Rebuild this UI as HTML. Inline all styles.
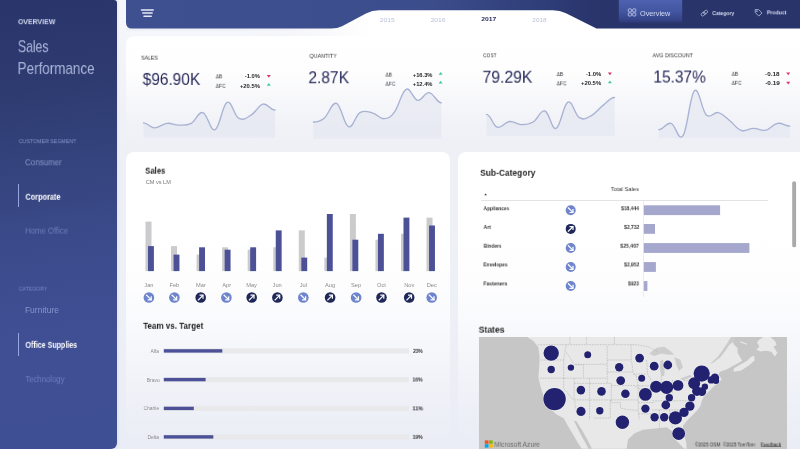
<!DOCTYPE html>
<html><head><meta charset="utf-8"><title>Sales Performance</title>
<style>
*{box-sizing:border-box;margin:0;padding:0}
html,body{width:800px;height:449px;overflow:hidden}
body{font-family:"Liberation Sans",sans-serif;background:linear-gradient(180deg,#f6f7fb 0%,#f1f2f7 22%,#eef0f6 33%,#eef0f7 62%,#eaedf5 100%);position:relative}
.t{position:absolute;white-space:pre;line-height:1;transform-origin:0 50%;will-change:transform}
.abs{position:absolute}
#side{left:0;top:0;width:117px;height:449px;border-radius:0 3px 6px 0;
 background:linear-gradient(172deg,#29356a 0%,#2e3b71 20%,#35447e 38%,#3c4b8c 56%,#404f94 74%,#3f4f93 100%);
 box-shadow:1px 0 3px rgba(60,70,120,.07)}
.sbar{position:absolute;left:18.2px;width:1.3px;background:#97a5df}
#hdr{left:126px;top:0;width:674px;height:28.6px}
.card{position:absolute;border-radius:8px;background:linear-gradient(180deg,#ffffff 0%,#ffffff 22%,rgba(255,255,255,.97) 32%,rgba(255,255,255,.88) 44%,rgba(255,255,255,.7) 56%,rgba(255,255,255,.45) 68%,rgba(255,255,255,.22) 80%,rgba(255,255,255,.07) 91%,rgba(255,255,255,0) 100%)}
</style></head><body>

<!-- sidebar -->
<div id="side" class="abs"></div>
<div class="sbar" style="top:184.2px;height:23.3px"></div>
<div class="sbar" style="top:332.6px;height:23.5px"></div>

<!-- KPI card -->
<div class="abs" style="left:126px;top:35.5px;width:690px;height:111px;border-radius:8px;background:linear-gradient(180deg,#ffffff 0%,rgba(255,255,255,.92) 30%,rgba(255,255,255,.45) 55%,rgba(255,255,255,.1) 80%,rgba(255,255,255,0) 100%)"></div>
<div class="abs" style="left:126px;top:28px;width:674px;height:9px;background:linear-gradient(180deg,#e9ecf5 0%,#f6f7fb 45%,rgba(255,255,255,0) 100%);-webkit-mask-image:linear-gradient(90deg,#000 0%,#000 18%,rgba(0,0,0,.5) 27%,transparent 31%,transparent 70%,rgba(0,0,0,.6) 75%,rgba(0,0,0,.6) 100%);mask-image:linear-gradient(90deg,#000 0%,#000 18%,rgba(0,0,0,.5) 27%,transparent 31%,transparent 70%,rgba(0,0,0,.6) 75%,rgba(0,0,0,.6) 100%)"></div>
<svg class="abs" style="left:290px;top:8px" width="510" height="34" viewBox="290 8 510 34"><defs><linearGradient id="tg" x1="0" x2="1"><stop offset="0" stop-color="#fff" stop-opacity="0"/><stop offset="0.16" stop-color="#fff"/><stop offset="1" stop-color="#fff"/></linearGradient></defs><path d="M290 36 L290 28 L342 26 L366 13 L379 10 H553 L566 13 L596.5 28.6 L800 28.6 L800 36 Z" fill="url(#tg)"/></svg>

<!-- header -->
<svg id="hdr" class="abs" viewBox="126 0 674 28.6" preserveAspectRatio="none">
 <defs>
  <linearGradient id="hg" x1="0" x2="1" y1="0" y2="0">
   <stop offset="0" stop-color="#3e5090"/><stop offset="0.45" stop-color="#3c4d8c"/><stop offset="0.62" stop-color="#2f3d78"/><stop offset="0.70" stop-color="#28346a"/><stop offset="1" stop-color="#28346a"/>
  </linearGradient>
  <linearGradient id="og" x1="0" x2="0" y1="0" y2="1">
   <stop offset="0" stop-color="#4c61b0"/><stop offset="0.5" stop-color="#4256a1"/><stop offset="0.85" stop-color="#36458b"/><stop offset="1" stop-color="#2d3a75"/>
  </linearGradient>
 </defs>
 <path d="M126 0 H800 V28.6 H596.5 L566 13.2 Q560 10.3 553 10.3 H379 Q372 10.3 366 13.4 L342 26.2 Q337.5 28.6 331 28.6 H132 Q126 28.6 126 22.6 Z" fill="url(#hg)"/>
 <rect x="618.8" y="0" width="63.4" height="22.8" fill="url(#og)"/>
 <!-- hamburger -->
 <g stroke="#e6e9f7" stroke-width="1.5" stroke-linecap="round">
  <line x1="141.5" y1="9.9" x2="153.2" y2="9.9"/><line x1="142.8" y1="13.1" x2="152.2" y2="13.1"/><line x1="144" y1="16.2" x2="151.2" y2="16.2"/>
 </g>
 <!-- overview icon -->
 <g fill="none" stroke="#c9cfec" stroke-width="0.8">
  <rect x="628.3" y="8.9" width="3.1" height="3.1" rx="0.6"/><rect x="632.7" y="8.9" width="3.1" height="3.1" rx="0.6"/>
  <rect x="628.3" y="12.9" width="3.1" height="3.1" rx="0.6"/><rect x="632.7" y="12.9" width="3.1" height="3.1" rx="0.6"/>
 </g>
 <!-- link icon -->
 <g fill="none" stroke="#c3c9e6" stroke-width="0.7" transform="translate(704.4 13.1) rotate(-38)">
  <rect x="-3.7" y="-1.45" width="4.5" height="2.9" rx="1.45"/><rect x="-0.8" y="-1.45" width="4.5" height="2.9" rx="1.45"/>
 </g>
 <!-- tag icon -->
 <g fill="none" stroke="#c3c9e6" stroke-width="0.75" stroke-linejoin="round">
  <path d="M755.2 9.6 H758.6 L762 13 L758.9 16 L755.2 12.6 Z"/><circle cx="756.9" cy="11.2" r="0.5"/>
 </g>
</svg>

<!-- cards -->
<div class="card" style="left:126px;top:152px;width:323.5px;height:297px;border-radius:8px 8px 0 0"></div>
<div class="card" style="left:458px;top:152px;width:360px;height:297px;border-radius:8px 8px 0 0"></div>

<!-- KPI sparklines + triangles -->
<svg class="abs" style="left:126px;top:33px" width="674" height="112" viewBox="126 33 674 112">
 <defs><linearGradient id="sg" x1="0" x2="0" y1="0" y2="1"><stop offset="0" stop-color="#96a0c8" stop-opacity="0.13"/><stop offset="1" stop-color="#96a0c8" stop-opacity="0.08"/></linearGradient></defs>
 <path d="M143.4 122.8 C147.7 122.8 149.9 127.8 154.2 127.9 C159.3 128.0 161.9 123.9 167.0 123.3 C171.6 122.8 173.9 125.1 178.5 125.1 C183.6 125.1 186.2 125.9 191.3 123.3 C195.9 120.9 198.2 111.4 202.8 112.6 C207.7 113.9 210.2 131.8 215.1 129.7 C219.9 127.7 222.3 104.6 227.1 102.3 C231.7 100.0 234.0 115.8 238.6 118.2 C243.7 120.9 246.3 117.9 251.4 114.9 C256.0 112.2 258.4 105.1 263.0 104.1 C267.8 103.1 270.2 110.0 275.0 110.0 L275.0 137.9 L143.4 137.9 Z" fill="url(#sg)"/>
<path d="M143.4 122.8 C147.7 122.8 149.9 127.8 154.2 127.9 C159.3 128.0 161.9 123.9 167.0 123.3 C171.6 122.8 173.9 125.1 178.5 125.1 C183.6 125.1 186.2 125.9 191.3 123.3 C195.9 120.9 198.2 111.4 202.8 112.6 C207.7 113.9 210.2 131.8 215.1 129.7 C219.9 127.7 222.3 104.6 227.1 102.3 C231.7 100.0 234.0 115.8 238.6 118.2 C243.7 120.9 246.3 117.9 251.4 114.9 C256.0 112.2 258.4 105.1 263.0 104.1 C267.8 103.1 270.2 110.0 275.0 110.0" fill="none" stroke="#a8b3d3" stroke-width="1.35" stroke-linecap="round"/>
<path d="M313.4 122.0 C317.7 122.0 319.9 121.7 324.2 118.2 C329.1 114.2 331.6 101.7 336.5 103.4 C341.3 105.1 343.7 124.8 348.5 126.7 C353.1 128.5 355.4 115.2 360.0 112.6 C365.1 109.7 367.7 111.8 372.8 113.1 C377.4 114.3 379.7 119.0 384.3 118.7 C388.4 118.5 390.5 117.4 394.6 111.8 C399.2 105.6 401.5 91.6 406.1 89.3 C410.7 87.0 413.0 99.6 417.6 100.3 C422.2 101.0 424.5 92.1 429.1 92.6 C434.0 93.1 436.5 102.8 441.4 102.8 L441.4 138.7 L313.4 138.7 Z" fill="url(#sg)"/>
<path d="M313.4 122.0 C317.7 122.0 319.9 121.7 324.2 118.2 C329.1 114.2 331.6 101.7 336.5 103.4 C341.3 105.1 343.7 124.8 348.5 126.7 C353.1 128.5 355.4 115.2 360.0 112.6 C365.1 109.7 367.7 111.8 372.8 113.1 C377.4 114.3 379.7 119.0 384.3 118.7 C388.4 118.5 390.5 117.4 394.6 111.8 C399.2 105.6 401.5 91.6 406.1 89.3 C410.7 87.0 413.0 99.6 417.6 100.3 C422.2 101.0 424.5 92.1 429.1 92.6 C434.0 93.1 436.5 102.8 441.4 102.8" fill="none" stroke="#a8b3d3" stroke-width="1.35" stroke-linecap="round"/>
<path d="M486.5 114.4 C490.8 114.4 492.9 125.9 497.2 127.2 C502.1 128.7 504.6 122.0 509.5 121.5 C514.1 121.0 516.4 124.5 521.0 124.6 C525.8 124.7 528.3 124.8 533.1 122.0 C537.8 119.3 540.2 109.7 544.9 111.0 C549.4 112.2 551.6 130.1 556.1 128.4 C560.8 126.6 563.2 104.3 567.9 102.1 C572.5 100.0 574.8 115.1 579.4 117.7 C584.2 120.5 586.6 118.1 591.4 115.6 C596.0 113.2 598.4 109.0 603.0 105.4 C607.6 101.8 609.9 97.5 614.5 97.5 L614.5 136.1 L486.5 136.1 Z" fill="url(#sg)"/>
<path d="M486.5 114.4 C490.8 114.4 492.9 125.9 497.2 127.2 C502.1 128.7 504.6 122.0 509.5 121.5 C514.1 121.0 516.4 124.5 521.0 124.6 C525.8 124.7 528.3 124.8 533.1 122.0 C537.8 119.3 540.2 109.7 544.9 111.0 C549.4 112.2 551.6 130.1 556.1 128.4 C560.8 126.6 563.2 104.3 567.9 102.1 C572.5 100.0 574.8 115.1 579.4 117.7 C584.2 120.5 586.6 118.1 591.4 115.6 C596.0 113.2 598.4 109.0 603.0 105.4 C607.6 101.8 609.9 97.5 614.5 97.5" fill="none" stroke="#a8b3d3" stroke-width="1.35" stroke-linecap="round"/>
<path d="M658.9 129.7 C663.7 129.7 666.2 122.1 671.0 123.3 C675.8 124.5 678.2 142.2 683.0 135.6 C687.6 129.2 689.9 94.9 694.5 90.8 C699.2 86.6 701.6 110.6 706.3 114.9 C711.1 119.3 713.5 111.4 718.3 112.6 C722.9 113.8 725.2 117.2 729.8 120.8 C734.4 124.4 736.8 129.0 741.4 130.5 C746.2 132.0 748.6 128.5 753.4 128.4 C758.3 128.3 760.8 131.2 765.7 130.2 C770.5 129.2 772.9 124.1 777.7 123.3 C782.5 122.5 785.0 126.1 789.8 126.1 L789.8 137.9 L658.9 137.9 Z" fill="url(#sg)"/>
<path d="M658.9 129.7 C663.7 129.7 666.2 122.1 671.0 123.3 C675.8 124.5 678.2 142.2 683.0 135.6 C687.6 129.2 689.9 94.9 694.5 90.8 C699.2 86.6 701.6 110.6 706.3 114.9 C711.1 119.3 713.5 111.4 718.3 112.6 C722.9 113.8 725.2 117.2 729.8 120.8 C734.4 124.4 736.8 129.0 741.4 130.5 C746.2 132.0 748.6 128.5 753.4 128.4 C758.3 128.3 760.8 131.2 765.7 130.2 C770.5 129.2 772.9 124.1 777.7 123.3 C782.5 122.5 785.0 126.1 789.8 126.1" fill="none" stroke="#a8b3d3" stroke-width="1.35" stroke-linecap="round"/>

 <path d="M266.8 75.10000000000001 L270.8 75.10000000000001 L268.8 77.7 Z" fill="#d8366f"/>
<path d="M266.8 85.7 L270.8 85.7 L268.8 83.10000000000001 Z" fill="#3fc9a2"/>
<path d="M438.6 74.7 L442.6 74.7 L440.6 72.10000000000001 Z" fill="#3fc9a2"/>
<path d="M438.6 83.39999999999999 L442.6 83.39999999999999 L440.6 80.8 Z" fill="#3fc9a2"/>
<path d="M607.9 72.60000000000001 L611.9 72.60000000000001 L609.9 75.2 Z" fill="#d8366f"/>
<path d="M607.9 83.2 L611.9 83.2 L609.9 80.60000000000001 Z" fill="#3fc9a2"/>
<path d="M786.2 72.60000000000001 L790.2 72.60000000000001 L788.2 75.2 Z" fill="#d8366f"/>
<path d="M786.2 81.8 L790.2 81.8 L788.2 84.39999999999999 Z" fill="#d8366f"/>
</svg>

<!-- Sales bar chart + icons + team bars -->
<svg class="abs" style="left:126px;top:152px" width="324" height="297" viewBox="126 152 324 297">
 <rect x="145.50" y="221.6" width="6" height="49.5" fill="#cbcbcd"/><rect x="148.00" y="246.1" width="5.9" height="25.0" fill="#4b5097"/>
<rect x="171.05" y="246.1" width="6" height="25.0" fill="#cbcbcd"/><rect x="173.55" y="254.6" width="5.9" height="16.5" fill="#4b5097"/>
<rect x="196.60" y="254.6" width="6" height="16.5" fill="#cbcbcd"/><rect x="199.10" y="247.3" width="5.9" height="23.8" fill="#4b5097"/>
<rect x="222.15" y="247.3" width="6" height="23.8" fill="#cbcbcd"/><rect x="224.65" y="249.7" width="5.9" height="21.4" fill="#4b5097"/>
<rect x="247.70" y="249.7" width="6" height="21.4" fill="#cbcbcd"/><rect x="250.20" y="247.3" width="5.9" height="23.8" fill="#4b5097"/>
<rect x="273.25" y="247.3" width="6" height="23.8" fill="#cbcbcd"/><rect x="275.75" y="230.4" width="5.9" height="40.7" fill="#4b5097"/>
<rect x="298.80" y="230.4" width="6" height="40.7" fill="#cbcbcd"/><rect x="301.30" y="257.6" width="5.9" height="13.5" fill="#4b5097"/>
<rect x="324.35" y="257.6" width="6" height="13.5" fill="#cbcbcd"/><rect x="326.85" y="214.0" width="5.9" height="57.1" fill="#4b5097"/>
<rect x="349.90" y="214.0" width="6" height="57.1" fill="#cbcbcd"/><rect x="352.40" y="239.7" width="5.9" height="31.4" fill="#4b5097"/>
<rect x="375.45" y="239.7" width="6" height="31.4" fill="#cbcbcd"/><rect x="377.95" y="233.8" width="5.9" height="37.3" fill="#4b5097"/>
<rect x="401.00" y="233.8" width="6" height="37.3" fill="#cbcbcd"/><rect x="403.50" y="217.6" width="5.9" height="53.5" fill="#4b5097"/>
<rect x="426.55" y="217.6" width="6" height="53.5" fill="#cbcbcd"/><rect x="429.05" y="225.5" width="5.9" height="45.6" fill="#4b5097"/>
<circle cx="148.9" cy="297.5" r="5.3" fill="#6e84cd"/><g transform="translate(148.9 297.5)" stroke="#fff" stroke-width="1.2" fill="none" stroke-linecap="square"><path d="M-2.3 -2.3 L1.9999999999999998 1.9999999999999998"/><path d="M-0.6 2.3 H2.3 V-0.6" stroke-linejoin="miter"/></g>
<circle cx="174.4" cy="297.5" r="5.3" fill="#6e84cd"/><g transform="translate(174.4 297.5)" stroke="#fff" stroke-width="1.2" fill="none" stroke-linecap="square"><path d="M-2.3 -2.3 L1.9999999999999998 1.9999999999999998"/><path d="M-0.6 2.3 H2.3 V-0.6" stroke-linejoin="miter"/></g>
<circle cx="200.7" cy="297.5" r="5.3" fill="#1f2858"/><g transform="translate(200.7 297.5)" stroke="#fff" stroke-width="1.2" fill="none" stroke-linecap="square"><path d="M-2.3 2.3 L1.9999999999999998 -1.9999999999999998"/><path d="M-0.6 -2.3 H2.3 V0.6" stroke-linejoin="miter"/></g>
<circle cx="226.4" cy="297.5" r="5.3" fill="#6e84cd"/><g transform="translate(226.4 297.5)" stroke="#fff" stroke-width="1.2" fill="none" stroke-linecap="square"><path d="M-2.3 -2.3 L1.9999999999999998 1.9999999999999998"/><path d="M-0.6 2.3 H2.3 V-0.6" stroke-linejoin="miter"/></g>
<circle cx="251.7" cy="297.5" r="5.3" fill="#1f2858"/><g transform="translate(251.7 297.5)" stroke="#fff" stroke-width="1.2" fill="none" stroke-linecap="square"><path d="M-2.3 2.3 L1.9999999999999998 -1.9999999999999998"/><path d="M-0.6 -2.3 H2.3 V0.6" stroke-linejoin="miter"/></g>
<circle cx="277.4" cy="297.5" r="5.3" fill="#1f2858"/><g transform="translate(277.4 297.5)" stroke="#fff" stroke-width="1.2" fill="none" stroke-linecap="square"><path d="M-2.3 2.3 L1.9999999999999998 -1.9999999999999998"/><path d="M-0.6 -2.3 H2.3 V0.6" stroke-linejoin="miter"/></g>
<circle cx="303.3" cy="297.5" r="5.3" fill="#6e84cd"/><g transform="translate(303.3 297.5)" stroke="#fff" stroke-width="1.2" fill="none" stroke-linecap="square"><path d="M-2.3 -2.3 L1.9999999999999998 1.9999999999999998"/><path d="M-0.6 2.3 H2.3 V-0.6" stroke-linejoin="miter"/></g>
<circle cx="330.1" cy="297.5" r="5.3" fill="#1f2858"/><g transform="translate(330.1 297.5)" stroke="#fff" stroke-width="1.2" fill="none" stroke-linecap="square"><path d="M-2.3 2.3 L1.9999999999999998 -1.9999999999999998"/><path d="M-0.6 -2.3 H2.3 V0.6" stroke-linejoin="miter"/></g>
<circle cx="356.1" cy="297.5" r="5.3" fill="#6e84cd"/><g transform="translate(356.1 297.5)" stroke="#fff" stroke-width="1.2" fill="none" stroke-linecap="square"><path d="M-2.3 -2.3 L1.9999999999999998 1.9999999999999998"/><path d="M-0.6 2.3 H2.3 V-0.6" stroke-linejoin="miter"/></g>
<circle cx="381.5" cy="297.5" r="5.3" fill="#1f2858"/><g transform="translate(381.5 297.5)" stroke="#fff" stroke-width="1.2" fill="none" stroke-linecap="square"><path d="M-2.3 2.3 L1.9999999999999998 -1.9999999999999998"/><path d="M-0.6 -2.3 H2.3 V0.6" stroke-linejoin="miter"/></g>
<circle cx="409.2" cy="297.5" r="5.3" fill="#1f2858"/><g transform="translate(409.2 297.5)" stroke="#fff" stroke-width="1.2" fill="none" stroke-linecap="square"><path d="M-2.3 2.3 L1.9999999999999998 -1.9999999999999998"/><path d="M-0.6 -2.3 H2.3 V0.6" stroke-linejoin="miter"/></g>
<circle cx="431.7" cy="297.5" r="5.3" fill="#6e84cd"/><g transform="translate(431.7 297.5)" stroke="#fff" stroke-width="1.2" fill="none" stroke-linecap="square"><path d="M-2.3 -2.3 L1.9999999999999998 1.9999999999999998"/><path d="M-0.6 2.3 H2.3 V-0.6" stroke-linejoin="miter"/></g>

 <rect x="163.8" y="348.3" width="245.2" height="5.2" fill="#e9e9eb"/><rect x="163.8" y="349.2" width="58.5" height="3.4" fill="#4b5097"/>
<rect x="163.8" y="377.0" width="245.2" height="5.2" fill="#e9e9eb"/><rect x="163.8" y="377.9" width="41.8" height="3.4" fill="#4b5097"/>
<rect x="163.8" y="405.8" width="245.2" height="5.2" fill="#e9e9eb"/><rect x="163.8" y="406.7" width="30.0" height="3.4" fill="#4b5097"/>
<rect x="163.8" y="434.3" width="245.2" height="5.2" fill="#e9e9eb"/><rect x="163.8" y="435.2" width="49.5" height="3.4" fill="#4b5097"/>

</svg>

<!-- Sub-category -->
<svg class="abs" style="left:458px;top:152px" width="342" height="170" viewBox="458 152 342 170">
 <path d="M484.2 195.3 L487 195.3 L485.6 193.4 Z" fill="#444"/><rect x="481" y="200.1" width="287" height="0.8" fill="#dcdcde"/><rect x="643.4" y="201" width="0.6" height="96" fill="#e2e2e4"/><rect x="643.8" y="205.3" width="76.3" height="9.8" fill="#a5a7cd"/><circle cx="570.7" cy="210.2" r="5.0" fill="#6e84cd"/><g transform="translate(570.7 210.2)" stroke="#fff" stroke-width="1.2" fill="none" stroke-linecap="square"><path d="M-2.3 -2.3 L1.9999999999999998 1.9999999999999998"/><path d="M-0.6 2.3 H2.3 V-0.6" stroke-linejoin="miter"/></g>
<rect x="643.8" y="224.0" width="11.2" height="9.8" fill="#a5a7cd"/><circle cx="570.7" cy="228.9" r="5.0" fill="#1f2858"/><g transform="translate(570.7 228.9)" stroke="#fff" stroke-width="1.2" fill="none" stroke-linecap="square"><path d="M-2.3 2.3 L1.9999999999999998 -1.9999999999999998"/><path d="M-0.6 -2.3 H2.3 V0.6" stroke-linejoin="miter"/></g>
<rect x="643.8" y="243.1" width="105.6" height="9.8" fill="#a5a7cd"/><circle cx="570.7" cy="248.0" r="5.0" fill="#6e84cd"/><g transform="translate(570.7 248.0)" stroke="#fff" stroke-width="1.2" fill="none" stroke-linecap="square"><path d="M-2.3 -2.3 L1.9999999999999998 1.9999999999999998"/><path d="M-0.6 2.3 H2.3 V-0.6" stroke-linejoin="miter"/></g>
<rect x="643.8" y="262.1" width="12.1" height="9.8" fill="#a5a7cd"/><circle cx="570.7" cy="267.0" r="5.0" fill="#6e84cd"/><g transform="translate(570.7 267.0)" stroke="#fff" stroke-width="1.2" fill="none" stroke-linecap="square"><path d="M-2.3 -2.3 L1.9999999999999998 1.9999999999999998"/><path d="M-0.6 2.3 H2.3 V-0.6" stroke-linejoin="miter"/></g>
<rect x="643.8" y="281.1" width="3.6" height="9.8" fill="#a5a7cd"/><circle cx="570.7" cy="286.0" r="5.0" fill="#6e84cd"/><g transform="translate(570.7 286.0)" stroke="#fff" stroke-width="1.2" fill="none" stroke-linecap="square"><path d="M-2.3 -2.3 L1.9999999999999998 1.9999999999999998"/><path d="M-0.6 2.3 H2.3 V-0.6" stroke-linejoin="miter"/></g>
<rect x="792.2" y="181.3" width="3.9" height="66" rx="1.9" fill="#aaaaaa"/>
</svg>

<!-- Map -->
<svg class="abs" style="left:478.6px;top:337.2px" width="308.4" height="111.8" viewBox="478.6 337.2 308.4 111.8">
 <rect x="478" y="337" width="310" height="113" fill="#c6c6c6"/>
<path fill="#e8e8e8" d="M526.8 337.2 L731 337.2 L733.4 344.7 L737 348 L737.4 353.4 L740.1 358 L741.8 361 L736.7 364 L731.4 366.8 L726.7 369.4 L720 371.8 L717.8 374.5 L719.8 377 L721.3 380 L717.5 383 L713.8 386.3 L708.8 391.3 L703.8 396.3 L701.3 401.3 L700 406.3 L696.3 411.3 L691.3 416.3 L686.3 421.3 L682.5 426.3 L683.8 436.3 L685.8 442.5 L686.3 449 L683.8 449 L681.3 446.3 L677.5 442.5 L673.8 438.8 L671.3 431.3 L666.3 427.5 L655 428.8 L642.5 430 L633.8 433.8 L627.5 440 L626.3 449 L581.4 449 L577.7 443.5 L572.8 434.9 L567.6 426.3 L563.3 418.5 L556.2 414.8 L548.1 407.6 L543.2 396.1 L540 386.3 L538 377.5 L538.8 367.5 L539.3 357.5 L538 347.5 L533 341.3 Z"/>
<path fill="#e8e8e8" d="M733 372 L733.6 368.4 L740 364.8 L746.8 361 L750.6 357.3 L753.8 356 L754.2 360.8 L748 366 L740.8 370.6 Z"/>
<path fill="#e8e8e8" d="M756.1 350 L759 346.7 L756.5 342.5 L758.8 340 L762.8 337.2 L770 337.2 L774.9 341.4 L776 345.4 L773 346.7 L777 353 L774.5 356.7 L771 352 L766 351 L760 351.6 Z"/>
<path fill="#e8e8e8" d="M740 341.4 L746.8 343.9 L746.5 345 L740 342.6 Z"/>
<path d="M730.5 337.2 L736 337.2 L733.4 341.5 L728.7 345.5 L725.2 350.7 L720 357.4 L713 362.6 L709.4 364.3 L712.5 361.5 L717.4 357 L722.5 350 L726.5 344 Z" fill="#cacaca"/>
<path fill="#c6c6c6" d="M573.5 421 L577 428 L581 436 L585 443 L588 449 L591.5 449 L587 440 L582 431 L576 421.5 Z"/>
<!-- great lakes -->
<g fill="#cdcdcd">
<path d="M648.8 353.8 L656.3 348 L663.8 347 L670 351.3 L673.8 355 L667.5 355 L661.3 353.8 L653.8 356.3 Z"/>
<path d="M660 361.3 L662.5 360 L664.5 367.5 L663.8 376.3 L660.8 376.3 L659.5 368.8 Z"/>
<path d="M673.8 357.5 L680 360 L682.5 367.5 L678.8 371.3 L676.3 366.3 L675 361.3 Z"/>
<path d="M680 378.8 L690 375 L691.3 377 L682.5 380.8 Z"/>
<path d="M692.5 372 L700 370 L700.5 372 L693.8 373.8 Z"/>
</g>
<!-- borders -->
<g fill="none" stroke="#b6b6b6" stroke-width="0.6" stroke-dasharray="1.8 0.9">
<path d="M537.4 344.9 L636.8 344.9 L649.2 347.4 L657.5 352.5"/><path d="M569.5 337.0 L569.5 344.9"/><path d="M586.1 337.0 L586.1 344.9"/><path d="M614.0 337.0 L614.0 344.9"/><path d="M540.5 360.2 L563.3 360.2"/><path d="M565.8 344.9 L564.3 353.6 L563.3 360.2 L563.3 378.4"/><path d="M565.8 352.5 L569.5 357.7 L573.7 365.0 L581.9 365.0"/><path d="M574.7 364.5 L606.8 364.5"/><path d="M583.0 364.5 L583.0 378.4 L605.7 378.4"/><path d="M539.5 378.4 L583.0 378.4"/><path d="M563.3 378.4 L563.3 388.8 L574.3 401.6 L575.1 409.5"/><path d="M573.7 378.4 L573.7 399.1"/><path d="M573.7 383.6 L589.2 383.6"/><path d="M589.2 378.4 L589.2 419.8"/><path d="M589.2 383.6 L610.9 383.6"/><path d="M573.7 400.1 L637.8 400.1"/><path d="M610.9 383.6 L610.9 402.8 L620.2 402.8 L620.2 408.4 L628.5 409.9 L637.8 410.9"/><path d="M606.8 346.3 L606.8 383.6"/><path d="M606.8 360.2 L630.6 360.2"/><path d="M606.8 372.2 L632.7 372.2 L635.8 376.3"/><path d="M610.9 385.7 L634.7 385.7 L636.8 388.8"/><path d="M609.9 400.1 L609.9 418.2 L593.3 418.2"/><path d="M630.6 344.9 L631.0 360.2 L632.7 372.2"/><path d="M632.7 374.3 L646.1 374.3"/><path d="M635.8 376.3 L637.8 385.7 L637.8 410.9 L638.9 419.8"/><path d="M637.8 388.8 L651.3 388.8"/><path d="M637.8 402.8 L654.4 402.8"/><path d="M646.1 360.2 L647.2 374.3 L651.3 381.5"/><path d="M652 401 H690"/><path d="M652 410 H684"/><path d="M659 410 V428"/><path d="M669 410 L672 428"/><path d="M661 376 V392"/><path d="M672 380 V394"/><path d="M683 381 L700 379 L708 377"/><path d="M700 379 L702 388"/><path d="M638 414 H652"/><path d="M636 386 L652 386"/>
</g>
<!-- bubbles -->
<g fill="#ffffff" fill-opacity="0.45"><circle cx="550.8" cy="353.3" r="8.25"/><circle cx="550.8" cy="369.7" r="4.25"/><circle cx="570.5" cy="367.8" r="3.75"/><circle cx="587.3" cy="355" r="4.05"/><circle cx="554.2" cy="399.3" r="11.75"/><circle cx="580.5" cy="390.3" r="4.85"/><circle cx="601.1" cy="391.6" r="4.85"/><circle cx="580.6" cy="411.6" r="5.15"/><circle cx="599.4" cy="411" r="4.25"/><circle cx="622" cy="422.5" r="7.25"/><circle cx="618.8" cy="367.5" r="4.75"/><circle cx="620.3" cy="380.8" r="4.95"/><circle cx="625" cy="394" r="4.85"/><circle cx="639.2" cy="358.3" r="4.95"/><circle cx="653.8" cy="366.4" r="4.95"/><circle cx="667.4" cy="365.2" r="4.95"/><circle cx="641.3" cy="378.4" r="4.05"/><circle cx="655.7" cy="387" r="6.55"/><circle cx="666.2" cy="387.6" r="7.15"/><circle cx="677.6" cy="385.6" r="5.95"/><circle cx="645" cy="394.6" r="6.95"/><circle cx="668.9" cy="398" r="4.25"/><circle cx="665.4" cy="405.2" r="4.95"/><circle cx="645" cy="408.8" r="4.75"/><circle cx="654.2" cy="417.5" r="4.75"/><circle cx="663.8" cy="417.5" r="4.75"/><circle cx="675" cy="418.1" r="7.15"/><circle cx="683.6" cy="412.6" r="5.25"/><circle cx="689.5" cy="406.3" r="5.25"/><circle cx="691.2" cy="398" r="4.25"/><circle cx="678.3" cy="433.8" r="6.95"/><circle cx="693.8" cy="383.5" r="6.55"/><circle cx="701.3" cy="373.8" r="8.65"/><circle cx="696.5" cy="391.4" r="5.35"/><circle cx="701.5" cy="391.8" r="4.85"/><circle cx="704.5" cy="387" r="3.75"/><circle cx="710.9" cy="380.1" r="4.25"/><circle cx="714.5" cy="377.9" r="4.85"/><circle cx="715.6" cy="380.9" r="3.75"/></g>

<g fill="#222270">
<circle cx="550.8" cy="353.3" r="7.7"/><circle cx="550.8" cy="369.7" r="3.7"/><circle cx="570.5" cy="367.8" r="3.2"/>
<circle cx="587.3" cy="355" r="3.5"/><circle cx="554.2" cy="399.3" r="11.2"/><circle cx="580.5" cy="390.3" r="4.3"/>
<circle cx="601.1" cy="391.6" r="4.3"/><circle cx="580.6" cy="411.6" r="4.6"/><circle cx="599.4" cy="411" r="3.7"/>
<circle cx="622" cy="422.5" r="6.7"/><circle cx="618.8" cy="367.5" r="4.2"/><circle cx="620.3" cy="380.8" r="4.4"/>
<circle cx="625" cy="394" r="4.3"/><circle cx="639.2" cy="358.3" r="4.4"/><circle cx="653.8" cy="366.4" r="4.4"/>
<circle cx="667.4" cy="365.2" r="4.4"/><circle cx="641.3" cy="378.4" r="3.5"/><circle cx="655.7" cy="387" r="6"/>
<circle cx="666.2" cy="387.6" r="6.6"/><circle cx="677.6" cy="385.6" r="5.4"/><circle cx="645" cy="394.6" r="6.4"/>
<circle cx="668.9" cy="398" r="3.7"/><circle cx="665.4" cy="405.2" r="4.4"/><circle cx="645" cy="408.8" r="4.2"/>
<circle cx="654.2" cy="417.5" r="4.2"/><circle cx="663.8" cy="417.5" r="4.2"/><circle cx="675" cy="418.1" r="6.6"/>
<circle cx="683.6" cy="412.6" r="4.7"/><circle cx="689.5" cy="406.3" r="4.7"/><circle cx="691.2" cy="398" r="3.7"/>
<circle cx="678.3" cy="433.8" r="6.4"/><circle cx="693.8" cy="383.5" r="6"/><circle cx="701.3" cy="373.8" r="8.1"/>
<circle cx="696.5" cy="391.4" r="4.8"/><circle cx="701.5" cy="391.8" r="4.3"/><circle cx="704.5" cy="387" r="3.2"/>
<circle cx="710.9" cy="380.1" r="3.7"/><circle cx="714.5" cy="377.9" r="4.3"/><circle cx="715.6" cy="380.9" r="3.2"/>
</g>
<!-- MS logo -->
<rect x="484.4" y="440.6" width="3.7" height="3.4" fill="#f25022"/><rect x="488.6" y="440.6" width="3.7" height="3.4" fill="#7fba00"/>
<rect x="484.4" y="444.4" width="3.7" height="3.4" fill="#00a4ef"/><rect x="488.6" y="444.4" width="3.7" height="3.4" fill="#ffb900"/>
<rect x="760.9" y="446.5" width="19.9" height="0.45" fill="#333"/>

</svg>

<div class="t" style="font-size:7.85px;left:18.60px;top:17.77px;color:#d3d8ef;font-weight:700;transform:translate(-1.05px,0.17px) scaleX(0.888);">OVERVIEW</div>
<div class="t" style="font-size:15.99px;left:18.60px;top:38.11px;color:#aeb7db;transform:translate(-1.13px,1.16px) scaleX(0.765);">Sales</div>
<div class="t" style="font-size:15.7px;left:18.60px;top:60.15px;color:#aeb7db;transform:translate(-1.44px,1.04px) scaleX(0.858);">Performance</div>
<div class="t" style="font-size:5.67px;left:18.70px;top:138.47px;color:#8a97cc;transform:translate(-0.20px,1.17px) scaleX(0.930);">CUSTOMER SEGMENT</div>
<div class="t" style="font-size:8.14px;left:25.60px;top:158.13px;color:#8a97c8;transform:translate(-1.04px,1.26px) scaleX(0.982);">Consumer</div>
<div class="t" style="font-size:8.14px;left:25.60px;top:192.73px;color:#ffffff;font-weight:700;transform:translate(-0.50px,0.81px) scaleX(0.901);">Corporate</div>
<div class="t" style="font-size:8.43px;left:25.60px;top:226.38px;color:#6f7dba;transform:translate(-0.86px,0.63px) scaleX(0.920);">Home Office</div>
<div class="t" style="font-size:5.67px;left:18.70px;top:285.97px;color:#7b89c6;transform:translate(-0.13px,0.66px) scaleX(0.906);">CATEGORY</div>
<div class="t" style="font-size:8.28px;left:25.60px;top:305.86px;color:#8794cc;transform:translate(-1.10px,1.21px) scaleX(1.033);">Furniture</div>
<div class="t" style="font-size:8.28px;left:25.60px;top:340.66px;color:#ffffff;font-weight:700;transform:translate(-0.55px,0.82px) scaleX(0.859);">Office Supplies</div>
<div class="t" style="font-size:8.28px;left:25.60px;top:374.96px;color:#6f7dbd;transform:translate(-0.61px,1.14px) scaleX(0.933);">Technology</div>
<div class="t" style="font-size:6.1px;left:380.00px;top:16.45px;color:#b9bfd8;transform:translate(-0.27px,0.79px) scaleX(1.108);">2015</div>
<div class="t" style="font-size:6.1px;left:431.25px;top:16.45px;color:#b9bfd8;transform:translate(-0.36px,0.80px) scaleX(1.102);">2016</div>
<div class="t" style="font-size:6.1px;left:481.75px;top:16.45px;color:#2d2f5e;font-weight:700;transform:translate(-0.86px,0.33px) scaleX(1.112);">2017</div>
<div class="t" style="font-size:6.1px;left:532.50px;top:16.45px;color:#b9bfd8;transform:translate(-0.65px,0.80px) scaleX(1.048);">2018</div>
<div class="t" style="font-size:7.27px;left:640.00px;top:9.46px;color:#d5dbf3;transform:translate(0.00px,0.80px) scaleX(1.001);">Overview</div>
<div class="t" style="font-size:5.81px;left:712.30px;top:10.29px;color:#d9def2;font-weight:700;transform:translate(0.29px,1.11px) scaleX(0.871);">Category</div>
<div class="t" style="font-size:5.96px;left:767.40px;top:9.42px;color:#d9def2;font-weight:700;transform:translate(-0.12px,1.35px) scaleX(0.866);">Product</div>
<div class="t" style="font-size:6.25px;left:141.90px;top:54.48px;color:#333;transform:translate(-0.85px,0.66px) scaleX(0.824);">SALES</div>
<div class="t" style="font-size:15.99px;left:142.90px;top:70.91px;color:#282b5a;transform:translate(-0.33px,0.92px) scaleX(0.965);">$96.90K</div>
<div class="t" style="font-size:5.81px;left:215.70px;top:73.50px;color:#34343c;transform:translate(-0.26px,0.28px) scaleX(0.850);">ΔB</div>
<div class="t" style="font-size:5.81px;left:215.70px;top:83.00px;color:#34343c;transform:translate(-0.27px,0.77px) scaleX(0.850);">ΔFC</div>
<div class="t" style="font-size:5.67px;left:259.80px;top:73.67px;color:#262626;font-weight:700;transform:translate(-15.26px,0.33px) scaleX(1.024);">-1.0%</div>
<div class="t" style="font-size:5.67px;left:259.80px;top:83.17px;color:#262626;font-weight:700;transform:translate(-20.06px,0.83px) scaleX(1.036);">+20.5%</div>
<div class="t" style="font-size:6.25px;left:309.30px;top:52.58px;color:#333;transform:translate(0.39px,-0.23px) scaleX(0.866);">QUANTITY</div>
<div class="t" style="font-size:16.28px;left:309.30px;top:69.06px;color:#282b5a;transform:translate(-0.61px,0.20px) scaleX(0.955);">2.87K</div>
<div class="t" style="font-size:5.81px;left:385.60px;top:71.80px;color:#34343c;transform:translate(-0.54px,0.57px) scaleX(0.850);">ΔB</div>
<div class="t" style="font-size:5.81px;left:385.60px;top:80.89px;color:#34343c;transform:translate(-0.50px,0.68px) scaleX(0.850);">ΔFC</div>
<div class="t" style="font-size:5.67px;left:432.20px;top:71.87px;color:#262626;font-weight:700;transform:translate(-19.24px,0.92px) scaleX(1.020);">+16.3%</div>
<div class="t" style="font-size:5.67px;left:432.20px;top:80.97px;color:#262626;font-weight:700;transform:translate(-19.24px,1.22px) scaleX(1.020);">+12.4%</div>
<div class="t" style="font-size:6.25px;left:482.90px;top:52.08px;color:#333;transform:translate(0.14px,0.27px) scaleX(0.770);">COST</div>
<div class="t" style="font-size:16.72px;left:483.40px;top:68.34px;color:#282b5a;transform:translate(-0.50px,1.69px) scaleX(0.942);">79.29K</div>
<div class="t" style="font-size:5.81px;left:556.90px;top:71.30px;color:#34343c;transform:translate(-0.30px,1.06px) scaleX(0.850);">ΔB</div>
<div class="t" style="font-size:5.81px;left:556.90px;top:80.50px;color:#34343c;transform:translate(-0.32px,0.29px) scaleX(0.850);">ΔFC</div>
<div class="t" style="font-size:5.67px;left:600.90px;top:71.37px;color:#262626;font-weight:700;transform:translate(-15.10px,1.43px) scaleX(1.045);">-1.0%</div>
<div class="t" style="font-size:5.67px;left:600.90px;top:80.57px;color:#262626;font-weight:700;transform:translate(-19.97px,0.03px) scaleX(1.038);">+20.5%</div>
<div class="t" style="font-size:6.25px;left:653.00px;top:52.08px;color:#333;transform:translate(-0.45px,0.26px) scaleX(0.857);">AVG DISCOUNT</div>
<div class="t" style="font-size:16.86px;left:654.80px;top:68.07px;color:#282b5a;transform:translate(-1.65px,1.53px) scaleX(0.916);">15.37%</div>
<div class="t" style="font-size:5.81px;left:731.60px;top:71.00px;color:#34343c;transform:translate(-0.35px,0.78px) scaleX(0.850);">ΔB</div>
<div class="t" style="font-size:5.81px;left:731.60px;top:80.00px;color:#34343c;transform:translate(-0.35px,0.78px) scaleX(0.850);">ΔFC</div>
<div class="t" style="font-size:5.67px;left:779.30px;top:71.07px;color:#262626;font-weight:700;transform:translate(-13.92px,0.53px) scaleX(1.113);">-0.18</div>
<div class="t" style="font-size:5.67px;left:779.30px;top:80.07px;color:#262626;font-weight:700;transform:translate(-13.82px,0.52px) scaleX(1.134);">-0.19</div>
<div class="t" style="font-size:9.3px;left:145.70px;top:165.95px;color:#1b1b1b;font-weight:700;transform:translate(-0.83px,0.64px) scaleX(0.834);">Sales</div>
<div class="t" style="font-size:5.38px;left:145.70px;top:179.01px;color:#777;transform:translate(-0.37px,0.60px) scaleX(1.042);">CM vs LM</div>
<div class="t" style="font-size:5.67px;left:148.90px;top:282.17px;color:#8a8a8a;transform:translate(-4.63px,0.68px) scaleX(1.000);">Jan</div>
<div class="t" style="font-size:5.67px;left:174.40px;top:282.17px;color:#8a8a8a;transform:translate(-4.52px,0.70px) scaleX(1.000);">Feb</div>
<div class="t" style="font-size:5.67px;left:200.70px;top:282.17px;color:#8a8a8a;transform:translate(-4.98px,0.70px) scaleX(1.000);">Mar</div>
<div class="t" style="font-size:5.67px;left:226.40px;top:282.17px;color:#8a8a8a;transform:translate(-3.75px,0.69px) scaleX(1.000);">Apr</div>
<div class="t" style="font-size:5.67px;left:251.70px;top:282.17px;color:#8a8a8a;transform:translate(-5.75px,0.69px) scaleX(1.000);">May</div>
<div class="t" style="font-size:5.67px;left:277.40px;top:282.17px;color:#8a8a8a;transform:translate(-4.42px,0.70px) scaleX(1.000);">Jun</div>
<div class="t" style="font-size:5.67px;left:303.30px;top:282.17px;color:#8a8a8a;transform:translate(-3.24px,0.69px) scaleX(1.000);">Jul</div>
<div class="t" style="font-size:5.67px;left:330.10px;top:282.17px;color:#8a8a8a;transform:translate(-4.99px,0.70px) scaleX(1.000);">Aug</div>
<div class="t" style="font-size:5.67px;left:356.10px;top:282.17px;color:#8a8a8a;transform:translate(-4.90px,0.69px) scaleX(1.000);">Sep</div>
<div class="t" style="font-size:5.67px;left:381.50px;top:282.17px;color:#8a8a8a;transform:translate(-4.94px,0.69px) scaleX(1.000);">Oct</div>
<div class="t" style="font-size:5.67px;left:409.20px;top:282.17px;color:#8a8a8a;transform:translate(-4.75px,0.69px) scaleX(1.000);">Nov</div>
<div class="t" style="font-size:5.67px;left:431.70px;top:282.17px;color:#8a8a8a;transform:translate(-5.21px,0.70px) scaleX(1.000);">Dec</div>
<div class="t" style="font-size:9.88px;left:143.70px;top:320.86px;color:#1b1b1b;font-weight:700;transform:translate(-0.83px,-0.19px) scaleX(0.814);">Team vs. Target</div>
<div class="t" style="font-size:4.94px;left:158.80px;top:348.43px;color:#8a8a8a;transform:translate(-8.60px,2.01px) scaleX(1.000);">Alfa</div>
<div class="t" style="font-size:5.38px;left:413.20px;top:348.21px;color:#262626;font-weight:700;transform:translate(0.10px,0.83px) scaleX(0.874);">23%</div>
<div class="t" style="font-size:4.94px;left:158.80px;top:377.13px;color:#8a8a8a;transform:translate(-12.23px,1.98px) scaleX(1.000);">Bravo</div>
<div class="t" style="font-size:5.38px;left:413.20px;top:376.91px;color:#262626;font-weight:700;transform:translate(-0.42px,0.50px) scaleX(0.918);">16%</div>
<div class="t" style="font-size:4.94px;left:158.80px;top:405.93px;color:#8a8a8a;transform:translate(-15.52px,1.32px) scaleX(1.000);">Charlie</div>
<div class="t" style="font-size:5.38px;left:413.20px;top:405.71px;color:#262626;font-weight:700;transform:translate(-0.45px,0.34px) scaleX(0.986);">11%</div>
<div class="t" style="font-size:4.94px;left:158.80px;top:434.43px;color:#8a8a8a;transform:translate(-11.60px,2.01px) scaleX(1.000);">Delta</div>
<div class="t" style="font-size:5.38px;left:413.20px;top:434.21px;color:#262626;font-weight:700;transform:translate(-0.28px,0.84px) scaleX(0.910);">19%</div>
<div class="t" style="font-size:9.88px;left:480.90px;top:167.86px;color:#262626;font-weight:700;transform:translate(-0.82px,-0.19px) scaleX(0.852);">Sub-Category</div>
<div class="t" style="font-size:5.96px;left:638.70px;top:186.02px;color:#333;transform:translate(-28.16px,1.05px) scaleX(0.959);">Total Sales</div>
<div class="t" style="font-size:5.81px;left:483.70px;top:205.40px;color:#333;font-weight:700;transform:translate(-0.43px,1.25px) scaleX(0.829);">Appliances</div>
<div class="t" style="font-size:5.67px;left:638.70px;top:205.47px;color:#333;font-weight:700;transform:translate(-17.88px,1.23px) scaleX(0.869);">$18,444</div>
<div class="t" style="font-size:5.81px;left:483.70px;top:224.09px;color:#333;font-weight:700;transform:translate(-0.36px,0.90px) scaleX(0.852);">Art</div>
<div class="t" style="font-size:5.67px;left:638.70px;top:224.16px;color:#333;font-weight:700;transform:translate(-14.90px,0.89px) scaleX(0.877);">$2,732</div>
<div class="t" style="font-size:5.81px;left:483.70px;top:242.90px;color:#333;font-weight:700;transform:translate(-0.33px,0.73px) scaleX(0.829);">Binders</div>
<div class="t" style="font-size:5.67px;left:638.70px;top:242.97px;color:#333;font-weight:700;transform:translate(-18.74px,0.73px) scaleX(0.908);">$25,407</div>
<div class="t" style="font-size:5.81px;left:483.70px;top:261.60px;color:#333;font-weight:700;transform:translate(-0.60px,0.38px) scaleX(0.833);">Envelopes</div>
<div class="t" style="font-size:5.67px;left:638.70px;top:261.67px;color:#333;font-weight:700;transform:translate(-14.90px,0.39px) scaleX(0.876);">$2,952</div>
<div class="t" style="font-size:5.81px;left:483.70px;top:280.60px;color:#333;font-weight:700;transform:translate(-0.53px,0.40px) scaleX(0.868);">Fasteners</div>
<div class="t" style="font-size:5.67px;left:638.70px;top:280.67px;color:#333;font-weight:700;transform:translate(-10.95px,0.39px) scaleX(0.861);">$923</div>
<div class="t" style="font-size:9.88px;left:479.10px;top:324.66px;color:#262626;font-weight:700;transform:translate(-0.35px,-0.35px) scaleX(0.869);">States</div>
<div class="t" style="font-size:6.69px;left:494.40px;top:440.95px;color:#6b6b6b;transform:translate(0.29px,0.77px) scaleX(0.989);">Microsoft Azure</div>
<div class="t" style="font-size:4.8px;left:696.00px;top:442.00px;color:#333;transform:translate(-1.07px,1.49px) scaleX(0.959);">©2025 OSM  ©2025 TomTom</div>
<div class="t" style="font-size:4.8px;left:780.80px;top:442.00px;color:#222;transform:translate(-20.27px,1.49px) scaleX(0.966);">Feedback</div>
</body></html>
